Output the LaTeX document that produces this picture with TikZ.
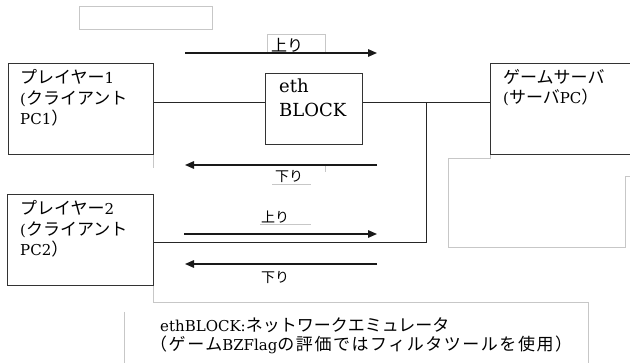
\documentclass[tikz,border=0pt]{standalone}
\usepackage{fontspec}
\setmainfont{DejaVu Serif}
\newfontfamily\jpfont{Noto Sans CJK JP}
\newfontfamily\jpwide[LetterSpace=9]{Noto Sans CJK JP}
\usetikzlibrary{arrows.meta}
\newcommand\jtxt[1]{{\fontsize{17}{20}\selectfont\jpfont #1}}
\newcommand\jwtxt[1]{{\fontsize{17}{20}\selectfont\jpwide #1}}
\newcommand\jlab[2]{{\fontsize{#1}{#1}\selectfont\jpfont #2}}
\tikzset{
  box/.style={draw=black!80, line width=1pt, fill=white, anchor=north west, inner sep=0pt},
  lite/.style={draw=black!22, line width=0.8pt},
  conn/.style={draw=black!85, line width=1pt},
  arr/.style={draw=black!90, line width=1.4pt, -{Triangle[length=9pt,width=7.5pt]}},
  txt/.style={anchor=base west, inner sep=0pt, font=\fontsize{15}{18}\selectfont},
  lab/.style={anchor=center, inner sep=0pt}
}
\begin{document}
\begin{tikzpicture}[x=1pt,y=-1pt]
\useasboundingbox[fill=white] (0,0) rectangle (630,363);

% light gray fragments
\draw[lite] (79,6) rectangle (212,29);
\draw[lite] (267,53) -- (267,34) -- (325,34) -- (325,53);
\draw[lite] (325,165) -- (325,172);
\draw[lite] (272,184) -- (311,184);
\draw[lite] (260,224) -- (311,224);
\draw[lite] (153,154) -- (153,168);
\draw[lite] (153,285) -- (153,302) -- (588,302) -- (588,363);
\draw[lite] (124,312) -- (124,363);
\draw[lite] (490,154) -- (490,158) -- (448,158) -- (448,247) -- (625,247) -- (625,176) -- (630,176);

% boxes
\node[box, minimum width=145pt, minimum height=91pt] (p1) at (8,63) {};
\node[box, minimum width=146pt, minimum height=91pt] (p2) at (7,194) {};
\node[box, minimum width=97pt, minimum height=71pt] (eth) at (265,73) {};
\node[box, minimum width=142pt, minimum height=91pt] (srv) at (490,63) {};

% box texts
\node[txt] (p1a) at (20,84) {\jtxt{プレイヤー}1};
\node[txt] (p1b) at (20,104.5) {(\jtxt{クライアント}};
\node[txt] (p1c) at (20,125) {PC1\jtxt{）}};
\node[txt] (p2a) at (20,215) {\jtxt{プレイヤー}2};
\node[txt] (p2b) at (20,235.5) {(\jtxt{クライアント}};
\node[txt] (p2c) at (20,256) {PC2\jtxt{）}};
\node[txt, font=\fontsize{18}{20}\selectfont] (etha) at (279,93) {eth};
\node[txt, font=\fontsize{18}{20}\selectfont] (ethb) at (279,117) {BLOCK};
\node[txt] (sa) at (503,84) {\jtxt{ゲームサーバ}};
\node[txt] (sb) at (503,104) {(\jtxt{サーバ}PC\jtxt{）}};

% connectors
\coordinate (ya) at (0,103);
\coordinate (jn) at (426,103);
\coordinate (jb) at (426,243);
\draw[conn] (p1.east |- ya) -- (eth.west |- ya);
\draw[conn] (eth.east |- ya) -- (srv.west |- ya);
\draw[conn] (jn) -- (jb) -- (p2.east |- jb);

% arrows
\coordinate (u1s) at (185,53);  \coordinate (u1e) at (377,53);
\coordinate (d1s) at (377,165); \coordinate (d1e) at (185,165);
\coordinate (u2s) at (184,234); \coordinate (u2e) at (377,234);
\coordinate (d2s) at (377,264); \coordinate (d2e) at (185,264);
\draw[arr] (u1s) -- (u1e);
\draw[arr] (d1s) -- (d1e);
\draw[arr] (u2s) -- (u2e);
\draw[arr] (d2s) -- (d2e);

% arrow labels
\node[lab] (lu1) at (287,45) {\jlab{16}{上り}};
\node[lab] (ld1) at (289,177) {\jlab{14}{下り}};
\node[lab] (lu2) at (275,217) {\jlab{14}{上り}};
\node[lab] (ld2) at (275,278) {\jlab{14}{下り}};

% bottom note
\node[txt] (n1) at (160,332) {ethBLOCK:\jtxt{ネットワークエミュレータ}};
\node[txt] (n2) at (150,351) {\jwtxt{（ゲーム}BZFlag\jwtxt{の評価ではフィルタツールを使用）}};
\end{tikzpicture}
\end{document}
